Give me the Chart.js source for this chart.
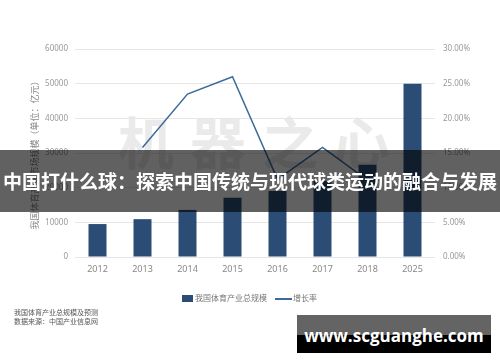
<!DOCTYPE html>
<html>
<head>
<meta charset="utf-8">
<script src="https://cdn.jsdelivr.net/npm/chart.js@4"></script>
<style>
html,body{margin:0;padding:0;background:#fff;}
#wrap{position:relative;width:500px;height:362px;overflow:hidden;font-family:"Noto Sans CJK SC","Noto Sans",sans-serif;}
#wm{position:absolute;left:118px;top:112px;font-size:56px;font-weight:bold;color:#eaeaea;letter-spacing:16px;white-space:nowrap;line-height:1;}
canvas{position:absolute;left:0;top:0;}
#banner{position:absolute;left:0;top:150px;width:500px;height:62px;background:rgba(0,0,0,0.62);}
#bannerText{position:absolute;left:0;top:150px;width:500px;height:62px;line-height:62px;text-align:center;color:#fff;font-weight:bold;font-size:19px;white-space:nowrap;}
#legend{position:absolute;top:292px;left:182px;font-size:8px;color:#777;white-space:nowrap;line-height:12px;}
#legend .box{display:inline-block;width:11px;height:7px;background:#2b4c74;vertical-align:middle;margin-right:2px;}
#legend .ln{display:inline-block;width:17px;height:1.5px;background:#3d6a99;vertical-align:middle;margin-left:8px;margin-right:1px;}
#src{position:absolute;left:14px;top:308px;font-size:7px;color:#555;line-height:9px;}
#site{position:absolute;left:297px;top:315px;width:194px;height:38px;background:linear-gradient(#646464 0,#646464 20px,#000 20px,#000 38px);}
#siteText{position:absolute;left:297px;top:315px;width:194px;height:38px;line-height:42px;text-align:center;color:#fff;font-weight:bold;font-size:17px;font-family:"Open Sans","Noto Sans",sans-serif;}
</style>
</head>
<body>
<div id="wrap">
  <div id="wm">机器之心</div>
  <canvas id="c" width="500" height="362"></canvas>
  <div id="banner"></div>
  <div id="bannerText">中国打什么球：探索中国传统与现代球类运动的融合与发展</div>
  <div id="legend"><span class="box"></span>我国体育产业总规模<span class="ln"></span>增长率</div>
  <div id="src">我国体育产业总规模及预测<br>数据来源：中国产业信息网</div>
  <div id="site"></div>
  <div id="siteText">www.scguanghe.com</div>
</div>
<script>
const categories = ['2012','2013','2014','2015','2016','2017','2018','2025'];
const industryScale = [9500, 10913, 13575, 17107, 19011, 21988, 26579, 50000];
const growthRate = [null, 15.8, 23.5, 26.0, 11.2, 15.8, 11.1, null];
const leftTicks = [0, 10000, 20000, 30000, 40000, 50000, 60000];
const rightTicks = [0, 5, 10, 15, 20, 25, 30];

const tickFont = {family: '"Noto Sans","Noto Sans CJK SC",sans-serif', size: 8};

new Chart(document.getElementById('c'), {
  type: 'bar',
  data: {
    labels: categories,
    datasets: [
      {
        type: 'line',
        label: '增长率',
        data: growthRate,
        yAxisID: 'y1',
        borderColor: '#3d6a99',
        borderWidth: 1.5,
        pointRadius: 0,
        tension: 0,
        fill: false,
        order: 0
      },
      {
        type: 'bar',
        label: '我国体育产业总规模',
        data: industryScale,
        yAxisID: 'y',
        backgroundColor: '#2b4c74',
        barPercentage: 0.4,
        categoryPercentage: 1,
        order: 1
      }
    ]
  },
  options: {
    responsive: false,
    animation: false,
    layout: {padding: {top: 49, bottom: 85, left: 0, right: 0}},
    plugins: {legend: {display: false}, tooltip: {enabled: false}},
    scales: {
      x: {
        grid: {display: false, drawTicks: false},
        border: {display: false},
        ticks: {color: '#888', font: {family: tickFont.family, size: 9}, padding: 7, maxRotation: 0},
        afterFit: s => { s.height = 20; }
      },
      y: {
        position: 'left',
        min: 0, max: 60000,
        afterBuildTicks: s => { s.ticks = leftTicks.map(v => ({value: v})); },
        grid: {color: '#e6e6e6', drawTicks: false, lineWidth: 1},
        border: {display: false},
        ticks: {color: '#999', font: tickFont, padding: 7, callback: v => String(v)},
        title: {display: true, text: '我国体育产业市场规模（单位：亿元）', color: '#888',
                font: {family: '"Noto Sans CJK SC",sans-serif', size: 9}, padding: {top: 29, bottom: 0}},
        afterFit: s => { s.width = 75; }
      },
      y1: {
        position: 'right',
        min: 0, max: 30,
        afterBuildTicks: s => { s.ticks = rightTicks.map(v => ({value: v})); },
        grid: {display: false, drawTicks: false},
        border: {display: false},
        ticks: {color: '#999', font: tickFont, padding: 8, callback: v => v.toFixed(2) + '%'},
        afterFit: s => { s.width = 65; }
      }
    }
  }
});
</script>
</body>
</html>
